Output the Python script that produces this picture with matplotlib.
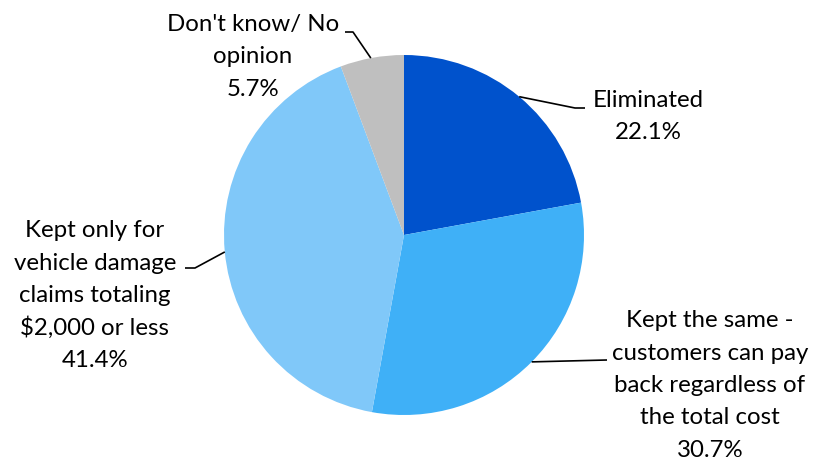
import numpy as np
import matplotlib.pyplot as plt
from matplotlib.transforms import ScaledTranslation

labels = ["Eliminated",
          "Kept the same -\ncustomers can pay\nback regardless of\nthe total cost",
          "Kept only for\nvehicle damage\nclaims totaling\n$2,000 or less",
          "Don't know/ No\nopinion"]
shares = [22.1, 30.7, 41.4, 5.7]
colors = ["#0052CC", "#3FB0F7", "#80C8F9", "#BFBFBF"]

# label text centre and leader elbow points (pixels, y measured from top)
text_pos = [(648, 115), (710, 384), (95, 294), (253, 55)]
elbows = [[(575, 108), (585, 108)],
          [(607, 360)],
          [(195, 268), (185, 268)],
          [(353, 32), (345, 32)]]
line_step = 32.5

W, H = 815, 461
cx, cy, R = 404, 235, 180

plt.rcParams['font.family'] = ['Lato', 'DejaVu Sans']
fig = plt.figure(figsize=(W / 100, H / 100), dpi=100)
ax = fig.add_axes([0, 0, 1, 1])

wedges, _ = ax.pie(shares, colors=colors, startangle=90, counterclock=False,
                   center=(cx, H - cy), radius=R,
                   wedgeprops=dict(linewidth=0))
ax.set_xlim(0, W)
ax.set_ylim(0, H)
ax.set_aspect('equal')
ax.axis('off')

# baseline sits a little below the row centre
row_shift = ax.transData + ScaledTranslation(0, -0.08, fig.dpi_scale_trans)

start = 90.0
for lab, val, (tx, ty), elb in zip(labels, shares, text_pos, elbows):
    mid = np.deg2rad(start - val * 3.6 / 2)
    start -= val * 3.6
    px, py = cx + R * np.cos(mid), H - cy + R * np.sin(mid)
    xs = [px] + [e[0] for e in elb]
    ys = [py] + [H - e[1] for e in elb]
    ax.plot(xs, ys, color='black', lw=1.2, solid_capstyle='butt')
    # one text per line so every row sits on the same pitch
    rows = lab.split("\n") + [f"{val:.1f}%"]
    for i, row in enumerate(rows):
        y = ty + (i - (len(rows) - 1) / 2) * line_step
        ax.text(tx, H - y, row, ha='center', va='baseline',
                fontsize=17.3, color='black', transform=row_shift)

fig.savefig('out.png', dpi=100)
